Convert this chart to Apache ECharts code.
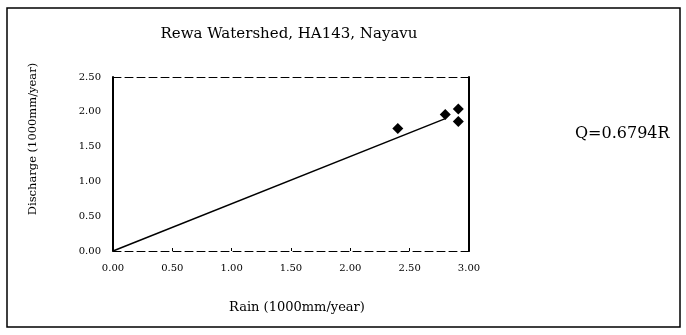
<!DOCTYPE html>
<html><head><meta charset="utf-8">
<script src="https://cdn.jsdelivr.net/npm/echarts@6/dist/echarts.min.js"></script>
<style>html,body{margin:0;padding:0;background:#fff}#c{width:686px;height:335px}</style>
</head><body><div id="c"></div>
<script>
const rain = [2.40, 2.80, 2.91, 2.91];
const discharge = [1.76, 1.96, 2.04, 1.86];
const slope = 0.6794;
const fitRange = [0, 2.80];
const xTicks = ['0.00','0.50','1.00','1.50','2.00','2.50','3.00'];
const yTicks = ['0.00','0.50','1.00','1.50','2.00','2.50'];

const pts = rain.map((r,i)=>[r, discharge[i]]);
const fit = fitRange.map(r=>[r, slope*r]);
const F = 'DejaVu Serif, Liberation Serif, serif';
const chart = echarts.init(document.getElementById('c'));
chart.setOption({
  animation:false,
  backgroundColor:'#fff',
  title:{text:'Rewa Watershed, HA143, Nayavu',left:284,top:22,textAlign:'center',
    textStyle:{fontFamily:F,fontSize:15,fontWeight:'normal',color:'#000'}},
  grid:{left:113,right:217,top:77,bottom:84},
  xAxis:[{type:'value',min:0,max:3,interval:0.5,
    axisLine:{show:true,onZero:false,lineStyle:{color:'#000',width:1,type:[8,4]}},
    axisTick:{show:true,inside:true,length:3,lineStyle:{color:'#000'}},
    splitLine:{show:false},
    axisLabel:{formatter:v=>xTicks[Math.round(v/0.5)],fontFamily:F,fontSize:10,color:'#000',margin:12},
    name:'Rain (1000mm/year)',nameLocation:'middle',nameGap:50,
    nameTextStyle:{fontFamily:F,fontSize:13,color:'#000',padding:[0,0,0,12]}},
   {type:'value',position:'top',min:0,max:3,
    axisLine:{show:true,onZero:false,lineStyle:{color:'#000',width:1,type:[8,4]}},
    axisTick:{show:false},axisLabel:{show:false},splitLine:{show:false}}],
  yAxis:[{type:'value',min:0,max:2.5,interval:0.5,
    axisLine:{show:true,onZero:false,lineStyle:{color:'#000',width:2}},
    axisTick:{show:false},
    splitLine:{show:false},
    axisLabel:{formatter:v=>yTicks[Math.round(v/0.5)],fontFamily:F,fontSize:10,color:'#000',margin:12}},
   {type:'value',position:'right',min:0,max:2.5,
    axisLine:{show:true,onZero:false,lineStyle:{color:'#000',width:2}},
    axisTick:{show:false},axisLabel:{show:false},splitLine:{show:false}}],
  series:[
    {type:'line',data:fit,symbol:'none',lineStyle:{color:'#000',width:1.5}},
    {type:'scatter',data:pts,symbol:'diamond',symbolSize:11,itemStyle:{color:'#000',opacity:1}}
  ],
  graphic:[
    {type:'rect',shape:{x:7,y:8,width:673,height:319},style:{fill:'none',stroke:'#000',lineWidth:1.5}},
    {type:'text',x:33,y:139,rotation:Math.PI/2,
      style:{text:'Discharge (1000mm/year)',fontFamily:F,fontSize:11.5,fill:'#000',align:'center',verticalAlign:'middle'}},
    {type:'text',x:575,y:134,style:{text:'Q=0.6794R',fontFamily:F,fontSize:16,fill:'#000',verticalAlign:'middle'}}
  ]
});
</script></body></html>
